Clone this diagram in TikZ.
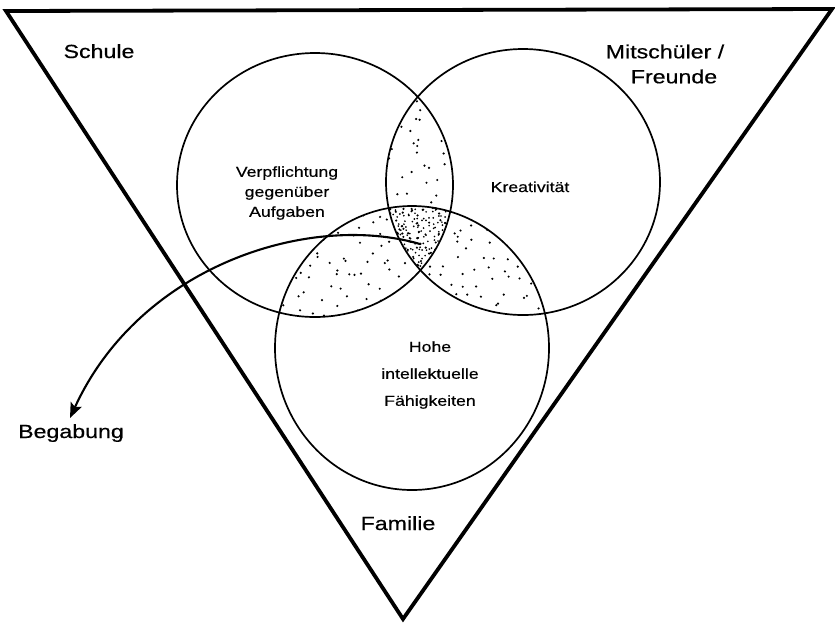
\documentclass[tikz,border=0pt]{standalone}
\usepackage{fontspec}
\setmainfont{Liberation Sans}
\newfontfamily\labfont[FakeStretch=1.22,FakeBold=0.5]{Liberation Sans}
\usetikzlibrary{arrows.meta}
\begin{document}
\begin{tikzpicture}[x=1pt,y=-1pt,
  big/.style={font=\labfont\fontsize{19}{25}\selectfont, inner sep=0pt, align=center},
  small/.style={font=\labfont\fontsize{14.5}{20}\selectfont, inner sep=0pt, align=center},
  smallwide/.style={font=\labfont\fontsize{14.5}{27}\selectfont, inner sep=0pt, align=center},
  ring/.style={line width=1.7pt},
  frame/.style={line width=3.8pt, line join=miter},
  arrowline/.style={line width=2.1pt, -{Stealth[length=15pt,width=12pt,inset=3pt]}},
  dot/.style={fill=black}]
\useasboundingbox (0,0) rectangle (835,625);
\pgfmathsetseed{23}
% stipple: pairwise lenses
\begin{scope}
  \clip (315,185) ellipse [x radius=138, y radius=132];
  \clip (412,348) ellipse [x radius=137, y radius=142];
  \foreach \gx in {268,282,...,430}{
    \foreach \gy in {198,212,...,330}{
      \pgfmathsetmacro\px{\gx+8*rand}
      \pgfmathsetmacro\py{\gy+8*rand}
      \fill[dot] (\px,\py) circle [radius=1.2];
    }}
\end{scope}
\begin{scope}
  \clip (523,182) ellipse [x radius=137, y radius=133];
  \clip (412,348) ellipse [x radius=137, y radius=142];
  \foreach \gx in {380,394,...,560}{
    \foreach \gy in {198,212,...,330}{
      \pgfmathsetmacro\px{\gx+8*rand}
      \pgfmathsetmacro\py{\gy+8*rand}
      \fill[dot] (\px,\py) circle [radius=1.2];
    }}
\end{scope}
\begin{scope}
  \clip (315,185) ellipse [x radius=138, y radius=132];
  \clip (523,182) ellipse [x radius=137, y radius=133];
  \foreach \gx in {382,396,...,460}{
    \foreach \gy in {90,104,...,280}{
      \pgfmathsetmacro\px{\gx+8*rand}
      \pgfmathsetmacro\py{\gy+8*rand}
      \fill[dot] (\px,\py) circle [radius=1.2];
    }}
\end{scope}
% stipple: triple intersection (dense)
\begin{scope}
  \clip (315,185) ellipse [x radius=138, y radius=132];
  \clip (523,182) ellipse [x radius=137, y radius=133];
  \clip (412,348) ellipse [x radius=137, y radius=142];
  \foreach \gx in {382,387,...,458}{
    \foreach \gy in {202,207,...,280}{
      \pgfmathsetmacro\px{\gx+2.5*rand}
      \pgfmathsetmacro\py{\gy+2.5*rand}
      \fill[dot] (\px,\py) circle [radius=0.95];
    }}
\end{scope}
% circles
\draw[ring] (315,185) ellipse [x radius=138, y radius=132];
\draw[ring] (523,182) ellipse [x radius=137, y radius=133];
\draw[ring] (412,348) ellipse [x radius=137, y radius=142];
% frame triangle
\coordinate (tl) at (6,11);
\coordinate (tr) at (832,9);
\coordinate (bt) at (403,619);
\draw[frame] (tl) -- (tr) -- (bt) -- cycle;
% labels
\node[big, anchor=base] (schule) at (99,58) {Schule};
\node[big] (mitsch) at (665,64) {Mitschüler /\\\hspace*{18pt}Freunde};
\node[small] (verpf) at (287,193) {Verpflichtung\\gegenüber\\Aufgaben};
\node[small, anchor=base] (krea) at (530,192) {Kreativität};
\node[smallwide] (hohe) at (430,375) {Hohe\\intellektuelle\\Fähigkeiten};
\node[big, anchor=base] (beg) at (71,438) {Begabung};
\node[big, anchor=base] (fam) at (398,530) {Familie};
% arrow
\coordinate (arrStart) at (420,244);
\coordinate (arrEnd) at (70,418);
\draw[arrowline] (arrStart) .. controls (310,212) and (140,265) .. (arrEnd);
\end{tikzpicture}
\end{document}
